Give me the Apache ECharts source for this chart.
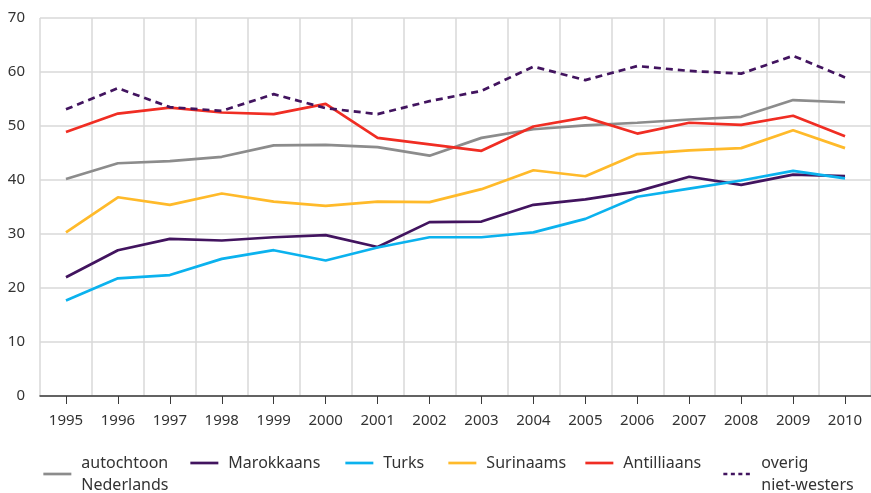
<!DOCTYPE html>
<html>
<head>
<meta charset="utf-8">
<script src="https://cdn.jsdelivr.net/npm/echarts@6/dist/echarts.min.js"></script>
<style>
  html, body { margin: 0; padding: 0; background: #ffffff; }
  #chart { width: 871px; height: 493px; }
</style>
</head>
<body>
<div id="chart"></div>
<script>
// Years on the horizontal axis
const years = ['1995','1996','1997','1998','1999','2000','2001','2002','2003','2004','2005','2006','2007','2008','2009','2010'];

// Percentages per group
const autochtoon  = [40.2, 43.1, 43.5, 44.3, 46.4, 46.5, 46.1, 44.5, 47.8, 49.4, 50.1, 50.6, 51.2, 51.7, 54.8, 54.4];
const marokkaans  = [22.0, 27.0, 29.1, 28.8, 29.4, 29.8, 27.6, 32.2, 32.3, 35.4, 36.4, 37.9, 40.6, 39.1, 41.0, 40.7];
const turks       = [17.7, 21.8, 22.4, 25.4, 27.0, 25.1, 27.5, 29.4, 29.4, 30.3, 32.8, 36.9, 38.4, 39.9, 41.7, 40.3];
const surinaams   = [30.3, 36.8, 35.4, 37.5, 36.0, 35.2, 36.0, 35.9, 38.3, 41.8, 40.7, 44.8, 45.5, 45.9, 49.2, 45.9];
const antilliaans = [48.9, 52.3, 53.4, 52.5, 52.2, 54.1, 47.8, 46.6, 45.4, 49.9, 51.6, 48.6, 50.6, 50.2, 51.9, 48.1];
const overig      = [53.1, 57.0, 53.5, 52.8, 55.9, 53.3, 52.2, 54.6, 56.5, 61.0, 58.5, 61.1, 60.2, 59.7, 63.0, 59.0];

// Series names (legend labels)
const names = ['autochtoon\nNederlands', 'Marokkaans', 'Turks', 'Surinaams', 'Antilliaans', 'overig\nniet-westers'];

const FONT = 'Noto Sans';
const TXT = '#333333';

const seriesDefs = [
  { name: names[0], data: autochtoon,  color: '#8c8c8c', dash: 'solid' },
  { name: names[1], data: marokkaans,  color: '#42145f', dash: 'solid' },
  { name: names[2], data: turks,       color: '#0bb2ee', dash: 'solid' },
  { name: names[3], data: surinaams,   color: '#ffba2a', dash: 'solid' },
  { name: names[4], data: antilliaans, color: '#f02d23', dash: 'solid' },
  { name: names[5], data: overig,      color: '#42145f', dash: [7, 5] }
];

// One legend per entry so each sits at its own horizontal spot
const legendLeft = [42, 189, 344, 447, 584, 722];
const LH = 22;
const legends = seriesDefs.map((s, i) => {
  const multi = s.name.indexOf('\n') >= 0;
  return {
    left: legendLeft[i],
    top: multi ? 441 : 452,
    padding: 0,
    itemWidth: 28,
    itemHeight: 14,
    itemGap: 0,
    selectedMode: false,
    data: [{
      name: s.name,
      textStyle: { padding: multi ? [LH, 0, 0, 5] : [0, 0, 0, 5] }
    }],
    itemStyle: { opacity: 0 },
    lineStyle: s.dash === 'solid' ? { width: 2.7 } : { width: 2.7, type: [4, 3.5] },
    textStyle: { fontFamily: FONT, fontSize: 16, color: TXT, lineHeight: LH }
  };
});

const chart = echarts.init(document.getElementById('chart'), null, { renderer: 'canvas' });

chart.setOption({
  animation: false,
  backgroundColor: '#ffffff',
  grid: { left: 40, right: 0, top: 18, bottom: 97, containLabel: false },
  legend: legends,
  xAxis: {
    type: 'category',
    data: years,
    boundaryGap: true,
    axisLine: { show: true, lineStyle: { color: '#3a3a3a', width: 1.5 } },
    axisTick: { show: true, alignWithLabel: true, length: 8, lineStyle: { color: '#3a3a3a', width: 1 } },
    axisLabel: { fontFamily: FONT, fontSize: 15, color: TXT, margin: 17 },
    splitLine: { show: true, lineStyle: { color: '#d8d8d8', width: 1.5 } }
  },
  yAxis: {
    type: 'value',
    min: 0,
    max: 70,
    interval: 10,
    axisLine: { show: false },
    axisTick: { show: false },
    axisLabel: { fontFamily: FONT, fontSize: 15, color: TXT, margin: 15 },
    splitLine: { show: true, lineStyle: { color: '#d8d8d8', width: 1.5 } }
  },
  series: seriesDefs.map(s => ({
    name: s.name,
    type: 'line',
    data: s.data,
    symbol: 'none',
    smooth: false,
    color: s.color,
    lineStyle: { color: s.color, width: 2.7, type: s.dash }
  }))
});
</script>
</body>
</html>
